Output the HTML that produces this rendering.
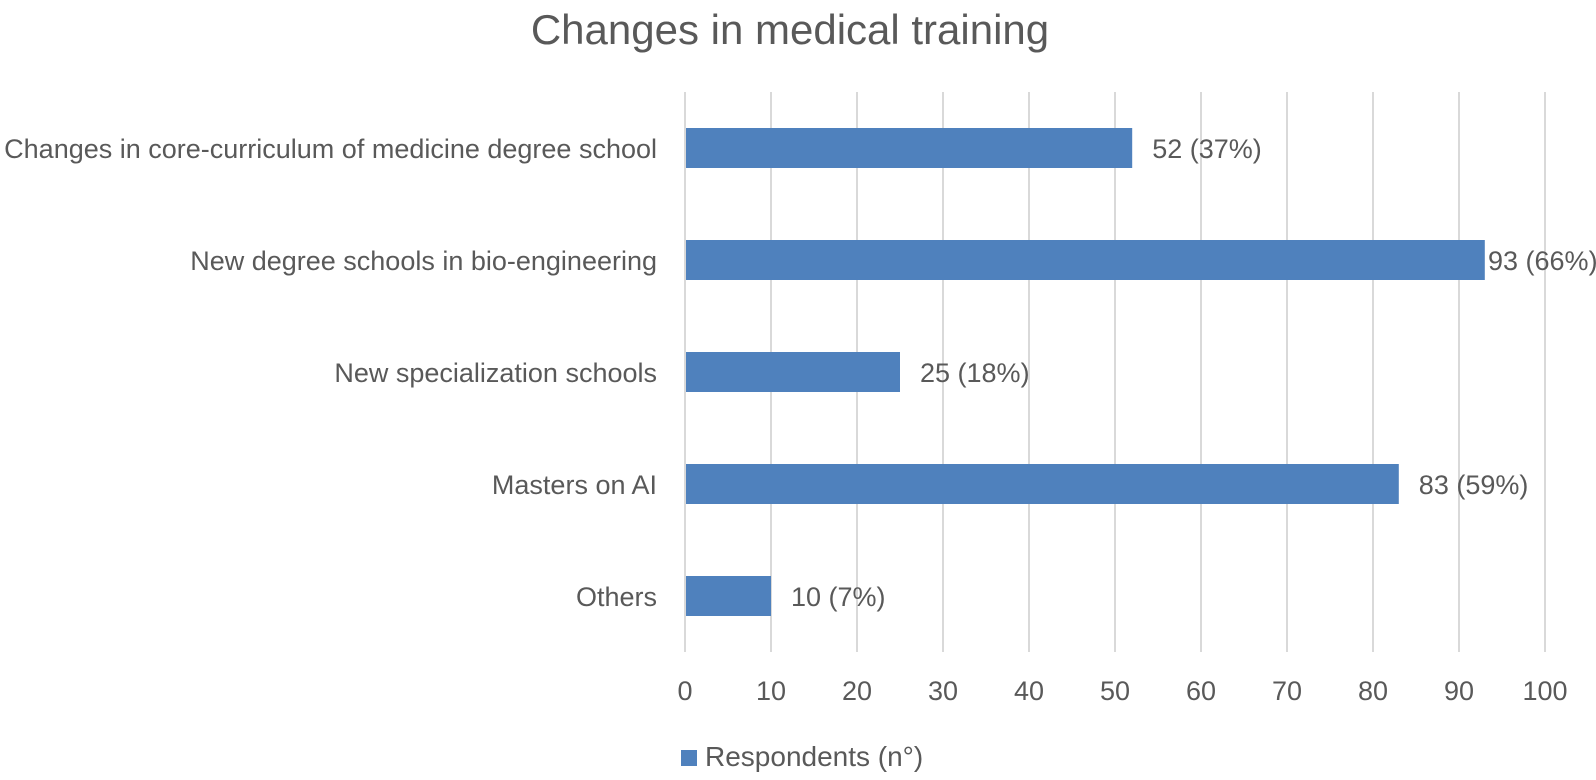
<!DOCTYPE html>
<html><head><meta charset="utf-8"><style>
body{margin:0;background:#fff;}
svg text{font-family:"Liberation Sans",sans-serif;fill:#595959;}
</style></head><body>
<svg id="chart" width="1596" height="775" xmlns="http://www.w3.org/2000/svg">
<text x="790" y="44" font-size="42" text-anchor="middle">Changes in medical training</text>
<g id="grid"></g><g id="bars"></g><g id="labels"></g>
<rect x="681" y="750" width="16" height="16" fill="#4f81bd"/>
<text x="705" y="766" font-size="28">Respondents (n°)</text>
</svg>
<script>
const categories=["Changes in core-curriculum of medicine degree school","New degree schools in bio-engineering","New specialization schools","Masters on AI","Others"];
const values=[52,93,25,83,10];
const valueLabels=["52 (37%)","93 (66%)","25 (18%)","83 (59%)","10 (7%)"];
const ticks=[0,10,20,30,40,50,60,70,80,90,100];
const NS="http://www.w3.org/2000/svg";
const xLeft=685,xRight=1545,plotTop=92,plotBottom=652;
const xs=v=>xLeft+(v/100)*(xRight-xLeft);
const band=(plotBottom-plotTop)/categories.length;
const yc=i=>plotTop+band*(i+0.5);
function mk(t,a,p){const e=document.createElementNS(NS,t);for(const k in a)e.setAttribute(k,a[k]);p.appendChild(e);return e;}
const g=document.getElementById('grid'),b=document.getElementById('bars'),l=document.getElementById('labels');
ticks.forEach(t=>{
 const ln=mk('line',{x1:xs(t),x2:xs(t),y1:plotTop,y2:plotBottom,stroke:'#d9d9d9','stroke-width':2},g);
 
 
 const tx=mk('text',{x:xs(t),y:700,'font-size':27,'text-anchor':'middle'},l);
 tx.textContent=t;
 
 
});
categories.forEach((c,i)=>{
 const r=mk('rect',{x:xs(0)+1,y:yc(i)-20,width:xs(values[i])-xs(0)-1,height:40,fill:'#4f81bd'},b);
 
 
 const ct=mk('text',{x:657,y:yc(i)+10,'font-size':27,'text-anchor':'end'},l);
 ct.textContent=c;
 
 
 let vx=xs(values[i])+20; if(vx>1488) vx=1488;
 const vt=mk('text',{x:vx,y:yc(i)+10,'font-size':27},l);
 vt.textContent=valueLabels[i];
 
 
});
</script>
</body></html>
